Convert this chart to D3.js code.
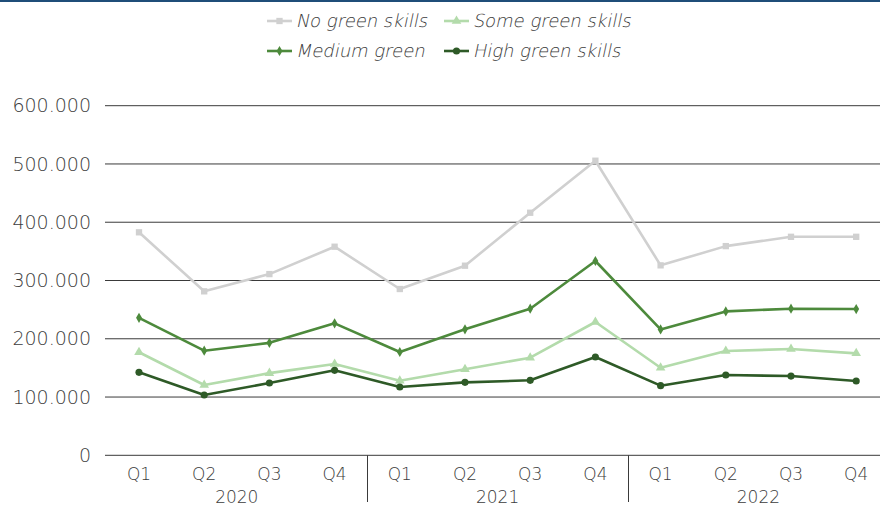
<!DOCTYPE html>
<meta charset="utf-8">
<style>
body { margin: 0; background: #fff; }
text { font-family: "DejaVu Sans", sans-serif; font-weight: 200; fill: #3c3c3c; }
.legend text { font-size: 18px; }
</style>
<body>
<script src="https://cdn.jsdelivr.net/npm/d3@7"></script>
<script>
var years = ["2020", "2021", "2022"];
var quarters = ["Q1", "Q2", "Q3", "Q4"];
var categories = [];
years.forEach(function(y) { quarters.forEach(function(q) { categories.push(y + "-" + q); }); });

var noGreen   = [382700, 281400, 311000, 358000, 285400, 325400, 416300, 505600, 326000, 359000, 375000, 375000];
var someGreen = [176800, 120600, 141000, 156700, 128000, 147600, 167500, 228800, 150300, 179000, 182400, 175000];
var medGreen  = [236000, 179500, 193000, 226500, 177300, 216200, 251600, 333500, 216000, 247000, 251600, 251000];
var highGreen = [142400, 103500, 124000, 145800, 117200, 125200, 128700, 168700, 119500, 137800, 136000, 127500];

var yTicks = [0, 100000, 200000, 300000, 400000, 500000, 600000];

var series = [
  {name: "No green skills", values: noGreen, color: "#d0d0d0", symbol: d3.symbolSquare, size: 40},
  {name: "Some green skills", values: someGreen, color: "#b3dbab", symbol: d3.symbolTriangle, size: 40},
  {name: "Medium green", values: medGreen, color: "#4d8a3c", symbol: d3.symbolDiamond, size: 30},
  {name: "High green skills", values: highGreen, color: "#2e5a27", symbol: d3.symbolCircle, size: 40}
];

var width = 880, height = 516;
var svg = d3.select("body").append("svg").attr("width", width).attr("height", height);

// top border
svg.append("rect").attr("x", 0).attr("y", 0).attr("width", width).attr("height", 2).style("fill", "#1f4e79");

var x = d3.scaleBand().domain(categories).range([106.4, 888.8]);
var y = d3.scaleLinear().domain([0, 600000]).range([455.3, 105.7]);

var fmt = function(d) { return d3.format(",")(d).replace(/,/g, "."); };

// gridlines + y labels
var yAxis = svg.append("g").attr("class", "y axis");
yAxis.selectAll("line").data(yTicks).enter().append("line")
    .attr("x1", 105).attr("x2", width)
    .attr("y1", function(d) { return y(d); })
    .attr("y2", function(d) { return y(d); })
    .style("stroke", "#3a3a3a").style("stroke-width", 1);
yAxis.selectAll("text").data(yTicks).enter().append("text")
    .attr("x", 91).attr("y", function(d) { return y(d); })
    .attr("dy", ".35em").style("text-anchor", "end").style("font-size", "19px")
    .text(fmt);

// x labels
var xAxis = svg.append("g").attr("class", "x axis");
xAxis.selectAll("text.q").data(categories).enter().append("text")
    .attr("class", "q")
    .attr("x", function(d) { return x(d) + x.bandwidth() / 2; })
    .attr("y", 480).style("text-anchor", "middle").style("font-size", "17px")
    .text(function(d) { return d.split("-")[1]; });
xAxis.selectAll("text.yr").data(years).enter().append("text")
    .attr("class", "yr")
    .attr("x", function(d) { return x(d + "-Q2") + x.bandwidth(); })
    .attr("y", 503).style("text-anchor", "middle").style("font-size", "17px")
    .text(function(d) { return d; });
xAxis.selectAll("line.sep").data(years.slice(1)).enter().append("line")
    .attr("class", "sep")
    .attr("x1", function(d) { return Math.round(x(d + "-Q1")) + 0.5; })
    .attr("x2", function(d) { return Math.round(x(d + "-Q1")) + 0.5; })
    .attr("y1", y(0)).attr("y2", 502)
    .style("stroke", "#3a3a3a").style("stroke-width", 1);

var line = d3.line()
    .x(function(d, i) { return x(categories[i]) + x.bandwidth() / 2; })
    .y(function(d) { return y(d); });

series.forEach(function(s) {
  var g = svg.append("g");
  g.append("path").datum(s.values).attr("d", line)
      .style("fill", "none").style("stroke", s.color).style("stroke-width", 2.6)
      .style("stroke-linejoin", "round");
  g.selectAll("path.dot").data(s.values).enter().append("path")
      .attr("class", "dot")
      .attr("transform", function(d, i) { return "translate(" + (x(categories[i]) + x.bandwidth() / 2) + "," + y(d) + ")"; })
      .attr("d", d3.symbol().type(s.symbol).size(s.size))
      .style("fill", s.color);
});

// legend
var legendPos = [
  {x: 267, y: 21}, {x: 444, y: 21},
  {x: 267, y: 51}, {x: 444, y: 51}
];
var legend = svg.selectAll(".legend").data(series).enter().append("g")
    .attr("class", "legend")
    .attr("transform", function(d, i) { return "translate(" + legendPos[i].x + "," + legendPos[i].y + ")"; });
legend.append("line").attr("x1", 0).attr("x2", 25).attr("y1", 0).attr("y2", 0)
    .style("stroke", function(d) { return d.color; }).style("stroke-width", 2.6);
legend.append("path").attr("transform", "translate(12.5,0)")
    .attr("d", function(d) { return d3.symbol().type(d.symbol).size(d.size)(); })
    .style("fill", function(d) { return d.color; });
// light italic look: skew the extra-light face
legend.append("text").attr("transform", "translate(30,0) skewX(-12)")
    .attr("dy", ".35em")
    .text(function(d) { return d.name; });
</script>
</body>
